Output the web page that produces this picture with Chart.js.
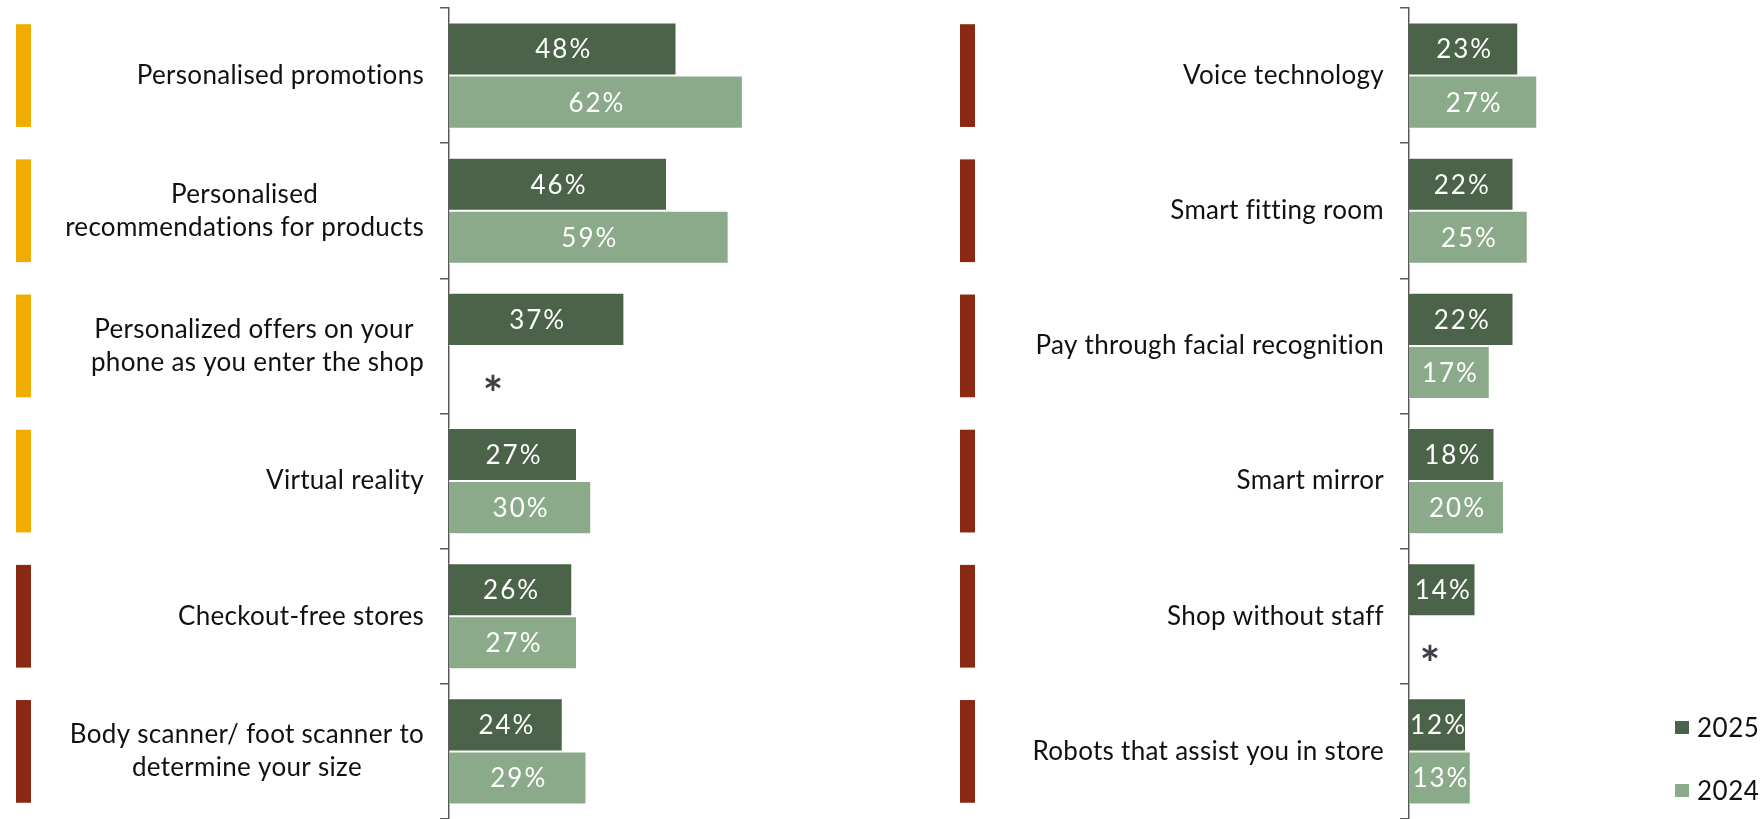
<!DOCTYPE html>
<html>
<head>
<meta charset="utf-8">
<script src="https://cdn.jsdelivr.net/npm/chart.js@4.4.1/dist/chart.umd.min.js"></script>
<style>
  html, body { margin: 0; padding: 0; background: #fff; }
  body { width: 1762px; height: 819px; position: relative; overflow: hidden; font-family: Lato, sans-serif; }
  .panel { position: absolute; top: 0; height: 819px; }
  #leftPanel { left: 0; width: 923px; }
  #rightPanel { left: 940px; width: 754px; }
  #legend { position: absolute; left: 1675px; top: 0; }
  .item { position: absolute; left: 0; display: flex; align-items: center; white-space: nowrap; }
  .item span.box { width: 14px; height: 13px; display: inline-block; margin-right: 8px; }
  .item span.txt { font-size: 26px; color: #111; line-height: 30px; letter-spacing: 0.5px; }
</style>
</head>
<body>
<div class="panel" id="leftPanel"><canvas id="leftChart"></canvas></div>
<div class="panel" id="rightPanel"><canvas id="rightChart"></canvas></div>
<div id="legend"></div>
<script>
// technologies, left column
const leftLabels = [
  ['Personalised promotions'],
  ['Personalised', 'recommendations for products'],
  ['Personalized offers on your ', 'phone as you enter the shop'],
  ['Virtual reality'],
  ['Checkout-free stores'],
  ['Body scanner/ foot scanner to', 'determine your size']
];
const left2025 = [48, 46, 37, 27, 26, 24];
const left2024 = [62, 59, null, 30, 27, 29];
const leftGroups = ['a', 'a', 'a', 'a', 'b', 'b'];

// technologies, right column
const rightLabels = [
  ['Voice technology'],
  ['Smart fitting room'],
  ['Pay through facial recognition'],
  ['Smart mirror'],
  ['Shop without staff'],
  ['Robots that assist you in store']
];
const right2025 = [23, 22, 22, 18, 14, 12];
const right2024 = [27, 25, 17, 20, null, 13];
const rightGroups = ['b', 'b', 'b', 'b', 'b', 'b'];

const seriesNames = ['2025', '2024'];
const seriesColors = ['#4B6349', '#8BAA89'];
const groupColors = { a: '#F0AC00', b: '#8B2813' };

Chart.defaults.font.family = 'Lato';

// category labels: block right-aligned to the axis, lines centred inside the block
const sideLabels = {
  id: 'sideLabels',
  afterDraw(chart, args, opts) {
    const ctx = chart.ctx;
    const y = chart.scales.y;
    const band = y.height / opts.labels.length;
    ctx.save();
    ctx.font = '26px Lato';
    ctx.letterSpacing = '0.3px';
    ctx.textAlign = 'center';
    ctx.textBaseline = 'middle';
    opts.labels.forEach((lines, i) => {
      const cy = y.getPixelForValue(i);
      const w = Math.max(...lines.map(l => ctx.measureText(l).width));
      const cx = chart.chartArea.left - opts.gap - w / 2;
      const lh = 33;
      ctx.fillStyle = '#111';
      lines.forEach((l, j) => {
        ctx.fillText(l, cx, cy + (j - (lines.length - 1) / 2) * lh);
      });
      // group marker strip
      const h = band * 0.76;
      ctx.fillStyle = groupColors[opts.groups[i]];
      ctx.fillRect(opts.stripX, cy - h / 2, 15, h);
    });
    ctx.restore();
  }
};

// values inside the bars, asterisk where there is no value
const barValues = {
  id: 'barValues',
  afterDatasetsDraw(chart, args, opts) {
    const ctx = chart.ctx;
    const x0 = chart.scales.x.getPixelForValue(0);
    ctx.save();
    ctx.textAlign = 'center';
    ctx.textBaseline = 'middle';
    chart.data.datasets.forEach((ds, di) => {
      chart.getDatasetMeta(di).data.forEach((bar, i) => {
        const v = ds.data[i];
        if (v == null) {
          ctx.font = 'bold 48px Lato';
          ctx.letterSpacing = '0px';
          ctx.fillStyle = '#3B3F46';
          ctx.fillText('*', x0 + opts.starOffset, bar.y + 23);
        } else {
          ctx.font = '26px Lato';
          ctx.letterSpacing = '2px';
          ctx.fillStyle = '#fff';
          ctx.fillText(v + '%', (bar.base + bar.x) / 2 + 1, bar.y + 1);
        }
      });
    });
    ctx.restore();
  }
};

function makeChart(id, labels, d2025, d2024, groups, axisWidth, maxX, stripX, starOffset) {
  return new Chart(document.getElementById(id), {
    type: 'bar',
    data: {
      labels: labels.map(l => l.join(' ')),
      datasets: [
        { label: seriesNames[0], data: d2025, backgroundColor: seriesColors[0] },
        { label: seriesNames[1], data: d2024, backgroundColor: seriesColors[1] }
      ]
    },
    options: {
      indexAxis: 'y',
      responsive: true,
      maintainAspectRatio: false,
      animation: false,
      layout: { padding: { top: 8, bottom: 0, left: 0, right: 0 } },
      datasets: {
        bar: {
          categoryPercentage: 0.785,
          barPercentage: 1,
          borderColor: '#fff',
          borderWidth: 1
        }
      },
      scales: {
        x: { display: false, min: 0, max: maxX },
        y: {
          offset: true,
          afterFit(scale) { scale.width = axisWidth; },
          ticks: { display: false },
          grid: {
            offset: true,
            drawOnChartArea: false,
            drawTicks: true,
            tickLength: 9,
            color: '#595959',
            lineWidth: 1.5
          },
          border: { display: true, color: '#595959', width: 1.5 }
        }
      },
      plugins: {
        legend: { display: false },
        tooltip: { enabled: false },
        sideLabels: { labels: labels, groups: groups, gap: 25, stripX: stripX },
        barValues: { starOffset: starOffset }
      }
    },
    plugins: [sideLabels, barValues]
  });
}

makeChart('leftChart', leftLabels, left2025, left2024, leftGroups, 449, 100, 16, 44);
makeChart('rightChart', rightLabels, right2025, right2024, rightGroups, 469, 60, 20, 21);

// legend, stacked at the lower right
const legend = document.getElementById('legend');
seriesNames.forEach((name, i) => {
  const item = document.createElement('div');
  item.className = 'item';
  item.style.top = (712 + i * 63) + 'px';
  item.innerHTML = '<span class="box" style="background:' + seriesColors[i] + '"></span><span class="txt">' + name + '</span>';
  legend.appendChild(item);
});
</script>
</body>
</html>
